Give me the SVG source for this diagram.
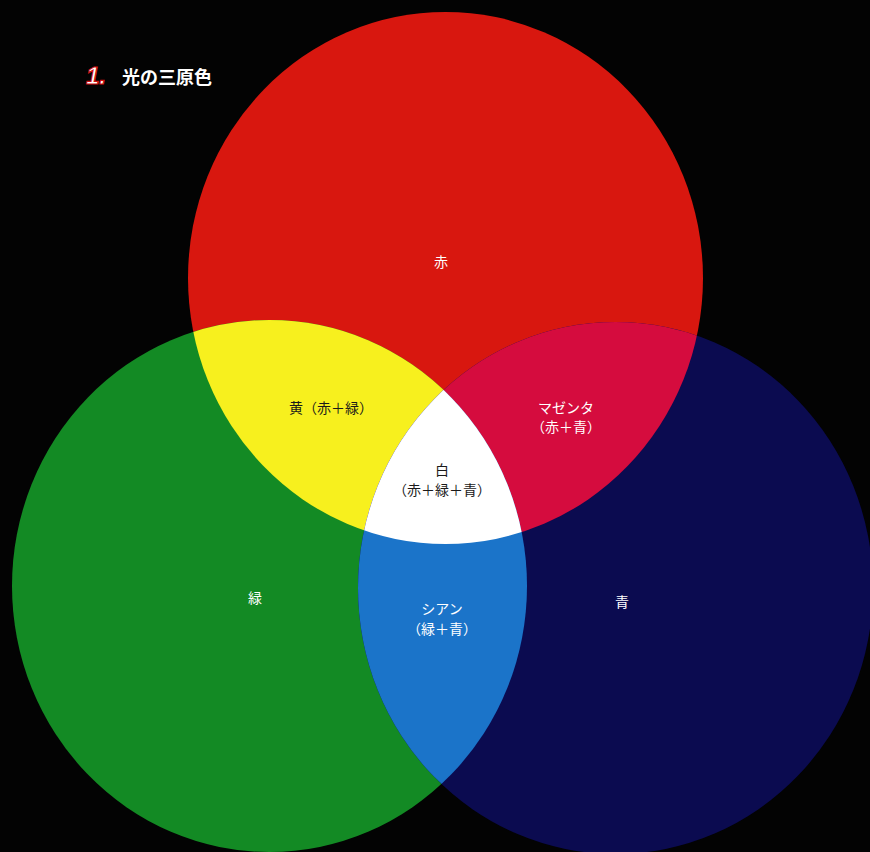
<svg xmlns="http://www.w3.org/2000/svg" width="870" height="852" viewBox="0 0 870 852">
<style>
.lbl{font-family:"Noto Sans CJK JP","Noto Sans",sans-serif;font-size:14px;text-anchor:middle}
.w{fill:#ffffff}
.d{fill:#1a1a1a}
</style>
<defs>
<clipPath id="cR"><ellipse cx="445.5" cy="278" rx="257.5" ry="266"/></clipPath>
<clipPath id="cG"><ellipse cx="269.5" cy="586" rx="257.5" ry="266"/></clipPath>
</defs>
<rect width="870" height="852" fill="#030303"/>
<g id="red"><ellipse cx="445.5" cy="278" rx="257.5" ry="266" fill="#d8170f"/></g>
<g id="green"><ellipse cx="269.5" cy="586" rx="257.5" ry="266" fill="#138a24"/></g>
<g id="blue"><ellipse cx="615.5" cy="588" rx="257.5" ry="266" fill="#0b0b50"/></g>
<g id="yellow" clip-path="url(#cR)"><ellipse cx="269.5" cy="586" rx="257.5" ry="266" fill="#f7f01e"/></g>
<g id="magenta" clip-path="url(#cR)"><ellipse cx="615.5" cy="588" rx="257.5" ry="266" fill="#d50c3e"/></g>
<g id="cyan" clip-path="url(#cG)"><ellipse cx="615.5" cy="588" rx="257.5" ry="266" fill="#1b74c9"/></g>
<g id="white" clip-path="url(#cR)"><g clip-path="url(#cG)"><ellipse cx="615.5" cy="588" rx="257.5" ry="266" fill="#ffffff"/></g></g>
<g id="labels">
<text class="lbl w" x="441" y="267">赤</text>
<text class="lbl d" x="331" y="413">黄（赤＋緑）</text>
<text class="lbl w" x="566" y="413">マゼンタ</text>
<text class="lbl w" x="566" y="432">（赤＋青）</text>
<text class="lbl d" x="442" y="475">白</text>
<text class="lbl d" x="442" y="495">（赤＋緑＋青）</text>
<text class="lbl w" x="255" y="603">緑</text>
<text class="lbl w" x="442" y="614">シアン</text>
<text class="lbl w" x="442" y="634">（緑＋青）</text>
<text class="lbl w" x="622" y="607">青</text>
</g>
<g id="title">
<text x="86" y="84" font-family="'Liberation Sans',sans-serif" font-size="24" font-weight="bold" font-style="italic" fill="#ffffff" stroke="#d01010" stroke-width="1.2">1.</text>
<text x="122" y="84" font-family="'Noto Sans CJK JP',sans-serif" font-size="18" font-weight="bold" fill="#ffffff">光の三原色</text>
</g>
</svg>
